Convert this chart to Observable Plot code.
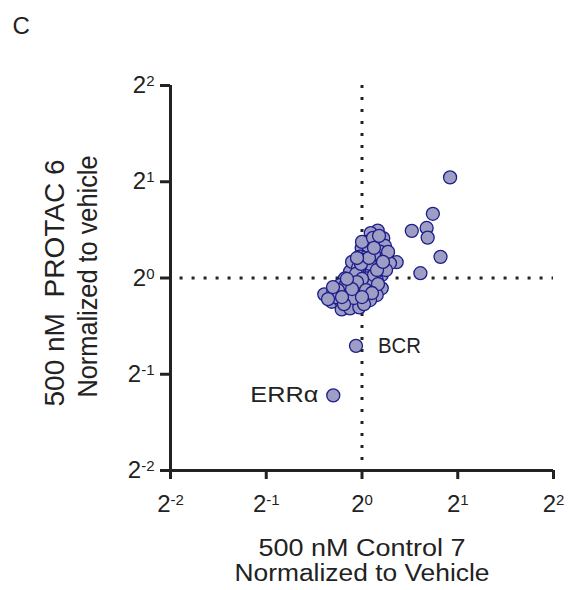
<!DOCTYPE html>
<html><head><meta charset="utf-8">
<script src="https://cdn.jsdelivr.net/npm/d3@7"></script>
<script src="https://cdn.jsdelivr.net/npm/@observablehq/plot@0.6"></script>
<style>
body{margin:0;background:#fff;}
#chart svg{display:block;}
#chart svg text{white-space:pre;}
</style>
</head><body><div id="chart"></div>
<script>
// ---- data (log2 fold change vs vehicle) ----
const panelLabel = "C";
const xTitleLines = ["500 nM Control 7", "Normalized to Vehicle"];
const yTitleLines = ["500 nM  PROTAC 6", "Normalized to vehicle"];
const tickExponents = [-2, -1, 0, 1, 2];

const log2Control = [
  0.164, 0.091, 0.222, 0.066, 0.146, 0.240, -0.003, 0.101, 0.188, -0.021,
  0.049, 0.240, 0.362, 0.292, 0.136, -0.073, 0.031, 0.188, -0.125, -0.021,
  0.101, 0.206, -0.178, -0.073, 0.049, 0.154, -0.230, -0.125, -0.003, 0.101,
  0.206, -0.394, -0.300, -0.195, -0.091, 0.031, 0.154, -0.316, -0.230, -0.125,
  -0.021, 0.084, -0.212, -0.125, -0.028, -0.104, -0.042, 0.021, 0.084, 0.125,
  0.063, 0.000, 0.115, -0.063, -0.167, -0.251, -0.146, -0.042, 0.063, 0.125,
  0.000, -0.084, 0.021, -0.272, -0.188, -0.355, 0.167, 0.251, 0.272,
  -0.052, -0.104, 0.042, 0.104, -0.157, -0.010, 0.157, 0.219, 0.073, -0.052,
  0.125, 0.178, -0.209, -0.303, 0.000,
  0.92, 0.74, 0.52, 0.675, 0.686, 0.82, 0.61
];
const log2Protac = [
  0.493, 0.466, 0.414, 0.378, 0.378, 0.333, 0.309, 0.299, 0.274, 0.222,
  0.222, 0.205, 0.164, 0.153, 0.188, 0.153, 0.135, 0.118, 0.066, 0.066,
  0.066, 0.031, -0.003, -0.003, -0.003, -0.021, -0.073, -0.073, -0.083, -0.091,
  -0.107, -0.170, -0.143, -0.153, -0.159, -0.159, -0.177, -0.247, -0.229, -0.247,
  -0.229, -0.229, -0.326, -0.316, -0.305, 0.167, 0.104, 0.188, 0.146, 0.250,
  0.333, 0.375, 0.417, 0.042, -0.063, -0.125, -0.188, -0.115, -0.031, 0.031,
  -0.010, -0.208, -0.271, -0.198, -0.271, -0.219, -0.063, 0.083, 0.271,
  -0.042, -0.115, -0.125, -0.156, -0.010, 0.146, 0.083, 0.167, 0.208, 0.208,
  0.313, 0.438, -0.198, -0.094, -0.198,
  1.045, 0.667, 0.49, 0.52, 0.42, 0.22, 0.05
];

const labelledNames = ["BCR", "ERRα"];
const labelledControl = [-0.063, -0.30];
const labelledProtac = [-0.705, -1.22];

// ---- tables built from the arrays ----
const points = log2Control.map((x, i) => ({x, y: log2Protac[i]}));
const labelled = labelledNames.map((name, i) => ({name, x: labelledControl[i], y: labelledProtac[i]}));
const allPoints = points.concat(labelled);

const dotFill = "#9e9ec4";
const dotStroke = "#1c1c8c";
const ink = "#222";

const chart = Plot.plot({
  width: 569,
  height: 590,
  marginTop: 85,
  marginBottom: 120,
  marginLeft: 170,
  marginRight: 16,
  style: {fontFamily: "'Liberation Sans', Arial, Helvetica, sans-serif", background: "#fff", color: ink},
  x: {domain: [-2, 2], axis: null},
  y: {domain: [-2, 2], axis: null},
  marks: [
    // reference lines at 2^0
    Plot.ruleX([0], {stroke: ink, strokeWidth: 3, strokeDasharray: "3,9"}),
    Plot.ruleY([0], {stroke: ink, strokeWidth: 3, strokeDasharray: "3,9", x1: -1.9, x2: 2}),
    // points
    Plot.dot(allPoints, {x: "x", y: "y", r: 6.5, fill: dotFill, stroke: dotStroke, strokeWidth: 1.3}),
    // labels
    Plot.text(labelled.filter(d => d.name === "BCR"), {x: "x", y: "y", text: "name", dx: 22, textAnchor: "start", fontSize: 22, fill: ink}),
    Plot.text(labelled.filter(d => d.name !== "BCR"), {x: "x", y: "y", text: "name", dx: -15, textAnchor: "end", fontSize: 22, fill: ink}),
    // axis lines
    Plot.ruleY([-2], {stroke: ink, strokeWidth: 3}),
    Plot.ruleX([-2], {stroke: ink, strokeWidth: 3}),
    // axes
    Plot.axisX({ticks: tickExponents, tickFormat: d => `2^${d}`, tickSize: 9, tickPadding: 15, strokeWidth: 3, fontSize: 24, color: ink, label: null}),
    Plot.axisY({ticks: tickExponents, tickFormat: d => `2^${d}`, tickSize: 10, tickPadding: 6, strokeWidth: 3, fontSize: 24, color: ink, label: null}),
    // titles
    Plot.text([panelLabel], {text: d => d, frameAnchor: "top-left", dx: -158, dy: -52, textAnchor: "start", lineAnchor: "bottom", fontSize: 24, fill: ink}),
    Plot.text([xTitleLines[0]], {text: d => d, frameAnchor: "bottom", dy: 85, textAnchor: "middle", lineAnchor: "bottom", fontSize: 23, fill: ink}),
    Plot.text([xTitleLines[1]], {text: d => d, frameAnchor: "bottom", dy: 110, textAnchor: "middle", lineAnchor: "bottom", fontSize: 23, fill: ink}),
    Plot.text([yTitleLines[0]], {text: d => d, frameAnchor: "left", rotate: -90, dx: -107, dy: 5, textAnchor: "middle", lineAnchor: "bottom", fontSize: 27, fill: ink}),
    Plot.text([yTitleLines[1]], {text: d => d, frameAnchor: "left", rotate: -90, dx: -74, dy: -1.5, textAnchor: "middle", lineAnchor: "bottom", fontSize: 27, fill: ink})
  ]
});

// superscript exponents in tick labels
d3.select(chart).selectAll("text").each(function () {
  const m = /^2\^(-?\d)$/.exec(this.textContent);
  if (m) {
    const t = d3.select(this);
    t.text("2");
    t.append("tspan").attr("font-size", 15).attr("dy", -7).text(m[1]);
  }
});

// match the reference's wide lettering for titles and labels
const textWidths = {
  "500 nM Control 7": 207,
  "Normalized to Vehicle": 255,
  "500 nM  PROTAC 6": 247,
  "Normalized to vehicle": 242,
  "BCR": 43,
  "ERRα": 68
};
d3.select(chart).selectAll("text").each(function () {
  const w = textWidths[this.textContent];
  if (w) d3.select(this).attr("textLength", w).attr("lengthAdjust", "spacingAndGlyphs");
});

document.getElementById("chart").appendChild(chart);
</script>
</body></html>
